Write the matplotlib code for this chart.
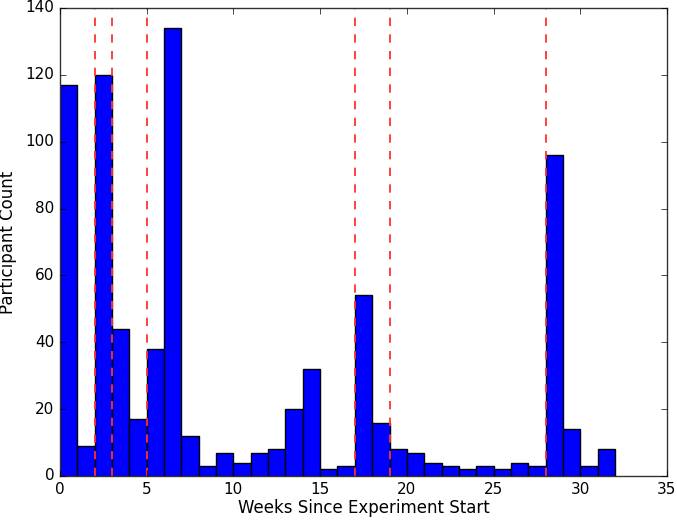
import numpy as np
import matplotlib
matplotlib.use('Agg')
import matplotlib.pyplot as plt

plt.style.use('classic')

# participant counts per week bin (weeks 0..31)
week_start = np.arange(0, 32)
counts = [117, 9, 120, 44, 17, 38, 134, 12, 3, 7, 4, 7, 8, 20, 32, 2,
          3, 54, 16, 8, 7, 4, 3, 2, 3, 2, 4, 3, 96, 14, 3, 8]
# weeks marked with red dashed lines
event_weeks = [2, 3, 5, 17, 19, 28]

fig = plt.figure(figsize=(6.77, 5.21), dpi=100)
ax = fig.add_axes([60/677, 45/521, 607/677, 468/521])

ax.bar(week_start, counts, width=1, align='edge', color='#0000ff',
       edgecolor='black', linewidth=1)
for w in event_weeks:
    ax.axvline(w, color='#ff3333', linestyle='--', linewidth=1.3)

ax.set_xlim(0, 35)
ax.set_ylim(0, 140)
ax.set_xlabel('Weeks Since Experiment Start', fontsize=12, labelpad=2)
ax.set_ylabel('Participant Count', fontsize=12, labelpad=6)
ax.tick_params(labelsize=11)
for s in ax.spines.values():
    s.set_color('#333333')

fig.savefig('out.png', dpi=100)
